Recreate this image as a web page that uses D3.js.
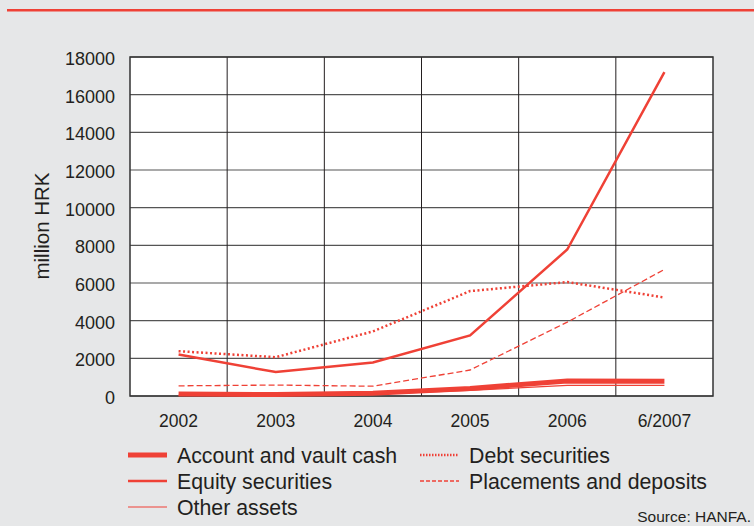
<!DOCTYPE html>
<html>
<head>
<meta charset="utf-8">
<style>
    body { margin: 0; background: #e6e7e8; }
    svg { display: block; font-family: 'Liberation Sans', Arial, sans-serif; }
</style>
</head>
<body>
<svg width="754" height="526"></svg>
<script src="https://d3js.org/d3.v7.min.js"></script>
<script>
    // data
    const years = ["2002", "2003", "2004", "2005", "2006", "6/2007"];
    const cash = [100, 80, 150, 400, 800, 780];
    const equity = [2200, 1270, 1780, 3220, 7780, 17200];
    const other = [40, 30, 100, 300, 560, 560];
    const debt = [2380, 2060, 3430, 5570, 6050, 5230];
    const placements = [540, 580, 520, 1380, 3920, 6720];
    const yTicks = [0, 2000, 4000, 6000, 8000, 10000, 12000, 14000, 16000, 18000];

    const red = "#ef4136";
    const ink = "#231f20";

    const series = [
        { name: "Account and vault cash", values: cash, width: 5, dash: null, key: null },
        { name: "Equity securities", values: equity, width: 2.5, dash: null, key: null },
        { name: "Other assets", values: other, width: 1.2, dash: null, key: null },
        { name: "Debt securities", values: debt, width: 2.5, dash: "2,2.5", key: "1.5,1.5" },
        { name: "Placements and deposits", values: placements, width: 1.3, dash: "6,3", key: "4,2" }
    ];

    const svg = d3.select("svg");
    const m = { left: 130, right: 713, top: 57, bottom: 396 };

    // red rule at top
    svg.append("rect").attr("x", 7).attr("y", 9).attr("width", 747).attr("height", 2.5).attr("fill", red);

    const x = d3.scaleBand().domain(years).range([m.left, m.right]);
    const y = d3.scaleLinear().domain([0, 18000]).range([m.bottom, m.top]);

    // plot background
    svg.append("rect")
        .attr("x", m.left).attr("y", m.top)
        .attr("width", m.right - m.left).attr("height", m.bottom - m.top)
        .attr("fill", "white");

    // horizontal grid
    svg.append("g").selectAll("line")
        .data(yTicks)
        .join("line")
        .attr("x1", m.left).attr("x2", m.right)
        .attr("y1", d => y(d)).attr("y2", d => y(d))
        .attr("stroke", "#555").attr("stroke-width", 1.2);

    // vertical grid at band edges
    svg.append("g").selectAll("line")
        .data(years.slice(1))
        .join("line")
        .attr("x1", d => x(d)).attr("x2", d => x(d))
        .attr("y1", m.top).attr("y2", m.bottom)
        .attr("stroke", ink).attr("stroke-width", 1);

    // frame
    svg.append("rect")
        .attr("x", m.left).attr("y", m.top)
        .attr("width", m.right - m.left).attr("height", m.bottom - m.top)
        .attr("fill", "none").attr("stroke", "#333").attr("stroke-width", 1.5);

    // y axis labels
    svg.append("g").selectAll("text")
        .data(yTicks)
        .join("text")
        .attr("x", 115).attr("y", d => y(d) + 8)
        .attr("text-anchor", "end")
        .attr("font-size", 18).attr("fill", ink)
        .text(d => d);

    svg.append("text")
        .attr("transform", "translate(49,226) rotate(-90)")
        .attr("text-anchor", "middle")
        .attr("font-size", 20.5).attr("fill", ink)
        .text("million HRK");

    // x axis labels
    svg.append("g").selectAll("text")
        .data(years)
        .join("text")
        .attr("x", d => x(d) + x.bandwidth() / 2)
        .attr("y", 427)
        .attr("text-anchor", "middle")
        .attr("font-size", 17.5).attr("fill", ink)
        .text(d => d);

    // lines
    const line = d3.line()
        .x((d, i) => x(years[i]) + x.bandwidth() / 2)
        .y(d => y(d));

    svg.append("g").selectAll("path")
        .data(series)
        .join("path")
        .attr("d", d => line(d.values))
        .attr("fill", "none")
        .attr("stroke", red)
        .attr("stroke-width", d => d.width)
        .attr("stroke-dasharray", d => d.dash);

    // legend
    const legendPos = [
        { x: 128, y: 455 }, { x: 128, y: 481 }, { x: 128, y: 507 },
        { x: 420, y: 455 }, { x: 420, y: 481 }
    ];
    const lg = svg.append("g").selectAll("g")
        .data(series)
        .join("g")
        .attr("transform", (d, i) => `translate(${legendPos[i].x},${legendPos[i].y})`);

    lg.append("line")
        .attr("x1", 0).attr("x2", 39)
        .attr("stroke", red)
        .attr("stroke-width", d => d.width)
        .attr("stroke-dasharray", d => d.key);

    lg.append("text")
        .attr("x", 49).attr("y", 8)
        .attr("font-size", 21.3).attr("fill", ink)
        .text(d => d.name);

    svg.append("text")
        .attr("x", 751).attr("y", 522)
        .attr("text-anchor", "end")
        .attr("font-size", 15.5).attr("fill", ink)
        .text("Source: HANFA.");
</script>
</body>
</html>
